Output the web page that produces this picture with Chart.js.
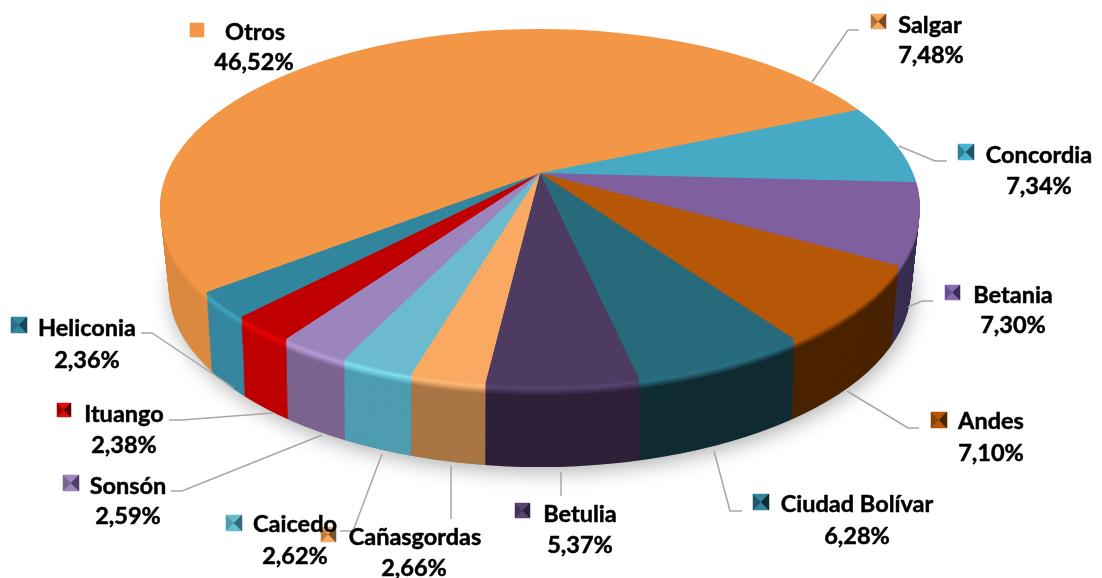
<!DOCTYPE html>
<html><head><meta charset="utf-8">
<style>html,body{margin:0;padding:0;background:#fff}canvas{display:block}</style>
<script src="https://cdn.jsdelivr.net/npm/chart.js@4"></script>
</head><body><canvas id="c" width="1102" height="578"></canvas>
<script>
const categories=["Salgar","Concordia","Betania","Andes","Ciudad Bolívar","Betulia","Cañasgordas","Caicedo","Sonsón","Ituango","Heliconia","Otros"];
const values=[7.48,7.34,7.30,7.10,6.28,5.37,2.66,2.62,2.59,2.38,2.36,46.52];
const topColors=["#F39645","#46AAC4","#7F5F9D","#B65708","#276A7C","#4D3B62","#F9A962","#6BBACE","#9C84BC","#C00000","#31859C","#F39645"];
const rimColors=["#F39645","#46AAC4","#7F5F9D","#B65708","#2A7082","#574370","#FDB673","#80DDF0","#B59BD6","#E60505","#3FA6C0","#F39645"];
const wallColors=["#D98A42","#37869F","#3A2E52","#4A2300","#112B33","#2E2038","#A87544","#4E9CB0","#7B648F","#BE0000","#37869F","#DC8A40"];
const markerLight=["#F7A660","#4BB3CC","#8A6BB0","#B65708","#31859C","#5A4570","#F9A962","#6BBACE","#9C84BC","#D01010","#31859C","#F39645"];
const markerDark=["#7A4A20","#1F5566","#3A2E52","#4A2300","#112B33","#2E2038","#7A5530","#2F6A7A","#4F3F66","#600000","#17475A","#F39645"];
const markerMid=["#B5703A","#2F7F95","#6A5090","#8A4206","#1F5566","#463458","#C07A40","#4E9CB0","#7B648F","#A00000","#27708A","#F39645"];
// layout: [marker x, marker y, marker size, name centre x, name y, pct centre x, pct y]
const labelLayout=[[871,14,15,930,25,931,55],[958,144,16,1039,155,1039,186],[945,285,15,1013,295,1013,325],[931,412,16,991,421,991,453],[753,494,16,857,504,857,536],[515,503,15,580,514,580,545],[321,527,15,415,537,414,568],[226,515,16,295,524,295,556],[63,475,16,128,486,128,516],[57,403,14,124,414,124,445],[11,317,16,87,328,87,360],[190,23,14,255,32,254,62]];
const leaders=[[[812,82],[848,30],[859,30]],[[899,146],[935,161],[947,161]],[[908,307],[922,301],[933,301]],[[847,391],[908,428],[919,428]],[[714,451],[730,511],[742,511]],[[561,472],[561,496]],[[451,466],[451,519]],[[382,454],[353,531],[340,531]],[[322,435],[182,491],[171,491]],[[273,413],[182,420],[169,420]],[[234,388],[152,333],[141,333]]];
const apex={x:540,y:173},oval={cy:207,rx:380,ry:178},depth=81,yScale=0.46,rimDepth=11;
const hex=c=>[1,3,5].map(i=>parseInt(c.substr(i,2),16));
const mix=(a,b,t)=>{const A=hex(a),B=hex(b);return `rgb(${A.map((v,i)=>Math.round(v+(B[i]-v)*t)).join(",")})`;};
function drawPie(chart,ctx,dy,rx,ry,colorOf){
  const arcs=chart.getDatasetMeta(0).data;
  ctx.save();
  ctx.beginPath();ctx.ellipse(apex.x,oval.cy+dy,rx,ry,0,0,Math.PI*2);ctx.clip();
  arcs.forEach((el,i)=>{
    const saved=el.options;
    el.options={...saved,backgroundColor:colorOf(i),borderWidth:0};
    ctx.save();
    ctx.translate(apex.x,apex.y+dy);
    ctx.scale(3.2,3.2*yScale);
    ctx.translate(-el.x,-el.y);
    el.draw(ctx);
    ctx.restore();
    el.options=saved;
  });
  ctx.restore();
}
const pie3d={id:"pie3d",
  beforeDatasetsDraw(chart){
    const ctx=chart.ctx;
    ctx.save();
    ctx.shadowColor="rgba(0,0,0,0.3)";ctx.shadowBlur=20;ctx.shadowOffsetY=5;ctx.shadowOffsetX=2;
    ctx.fillStyle="#999";
    ctx.beginPath();ctx.ellipse(apex.x,oval.cy+depth,371,oval.ry+1,0,0,Math.PI*2);ctx.fill();
    ctx.restore();
    for(let d=depth;d>0;d--){
      const f=d/depth,rx=oval.rx-9*f,ry=oval.ry+1*f;
      drawPie(chart,ctx,d,rx,ry,i=>{
        if(d>=rimDepth) return wallColors[i];
        if(d>=4) return mix(rimColors[i],wallColors[i],(d-4)/(rimDepth-4));
        return mix(topColors[i],rimColors[i],d/4);
      });
    }
    drawPie(chart,ctx,0,oval.rx,oval.ry,i=>topColors[i]);
    return false;
  },
  afterDraw(chart){
    const ctx=chart.ctx;
    ctx.save();
    ctx.strokeStyle="#A6A6A6";ctx.lineWidth=1.5;
    leaders.forEach(l=>{ctx.beginPath();l.forEach((p,j)=>j?ctx.lineTo(p[0],p[1]):ctx.moveTo(p[0],p[1]));ctx.stroke();});
    categories.forEach((name,i)=>{
      const [mx,my,ms]=labelLayout[i],c={x:mx+ms/2,y:my+ms/2};
      ctx.fillStyle=markerMid[i];ctx.fillRect(mx,my,ms,ms);
      const tri=(a,b,col)=>{ctx.fillStyle=col;ctx.strokeStyle=col;ctx.lineWidth=.5;ctx.beginPath();ctx.moveTo(a[0],a[1]);ctx.lineTo(b[0],b[1]);ctx.lineTo(c.x,c.y);ctx.closePath();ctx.fill();ctx.stroke();};
      const TL=[mx,my],TR=[mx+ms,my],BR=[mx+ms,my+ms],BL=[mx,my+ms];
      tri(BL,TL,markerMid[i]);tri(TL,TR,markerLight[i]);tri(BR,BL,markerLight[i]);tri(TR,BR,markerDark[i]);
    });
    ctx.fillStyle="#000";ctx.strokeStyle="#000";ctx.lineWidth=0.5;ctx.lineJoin="round";ctx.textAlign="center";ctx.textBaseline="middle";
    ctx.font='bold 23.5px Lato, "Open Sans", sans-serif';
    categories.forEach((name,i)=>{
      const L=labelLayout[i],pct=values[i].toFixed(2).replace(".",",")+"%";
      ctx.fillText(name,L[3],L[4]);ctx.strokeText(name,L[3],L[4]);
      ctx.fillText(pct,L[5],L[6]);ctx.strokeText(pct,L[5],L[6]);
    });
    ctx.restore();
  }
};
new Chart(document.getElementById("c"),{
  type:"pie",
  data:{labels:categories,datasets:[{data:values,backgroundColor:topColors,borderWidth:0}]},
  options:{responsive:false,animation:false,rotation:39.7,
    plugins:{legend:{display:false},tooltip:{enabled:false}},
    layout:{padding:0}},
  plugins:[pie3d]
});
</script></body></html>
